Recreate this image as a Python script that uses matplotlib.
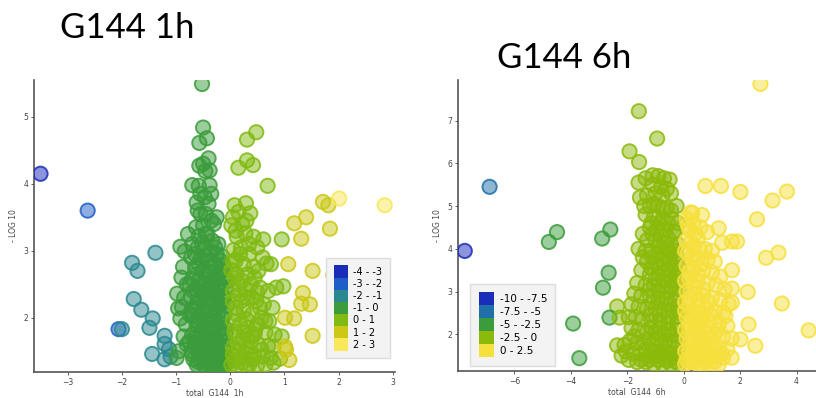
import matplotlib
matplotlib.use("Agg")
import matplotlib.pyplot as plt
from matplotlib.patches import Patch
from matplotlib.colors import to_rgba
import numpy as np

# ---------------- data: G144 1h ----------------
x_1h = [-3.50, -2.63, -1.81, -1.71, -1.38, -1.78, -1.64, -1.43, -1.49, -2.06, -2.00,
        -1.44, -1.21, -1.21, -1.13, -1.21, -1.10,
        -0.52, -0.50, -0.57, -0.43, -0.40, -0.50, -0.46, -0.38, -0.57, -0.70, -0.58, -0.38,
        -0.47, -0.62, -0.40, -0.55, -0.45, -0.25, -0.30, -0.63, -0.50, -0.58, -0.42, -0.33,
        -0.22, -0.70, -0.60, -0.48, -0.35, -0.25, -0.15, -0.72, -0.55, -0.42, -0.28, -0.12,
        -0.65, -0.50, -0.38, -0.22, -0.10, -0.70, -0.58, -0.45, -0.32, -0.18, -0.08, -0.62,
        -0.50, -0.38, -0.25, -0.12, -0.72, -0.55, -0.42, -0.30, -0.18, -0.06, -0.65, -0.50,
        -0.35, -0.22, -0.10, -0.70, -0.58, -0.45, -0.32, -0.18, -0.62, -0.48, -0.35, -0.22,
        -0.08, -0.70, -0.55, -0.42, -0.28, -0.15, -0.65, -0.52, -0.38, -0.25, -0.12, -0.72,
        -0.58, -0.45, -0.32, -0.18, -0.06, -0.68, -0.55, -0.40, -0.28, -0.15, -0.62, -0.48,
        -0.35, -0.22, -0.10,
        -0.60, -0.35, -0.52, -0.28, -0.65, -0.45, -0.18, -0.58, -0.35, -0.15, -0.62, -0.43,
        -0.28, -0.05, -0.55, -0.38, -0.20, -0.68, -0.48, -0.30, -0.12, -0.60, -0.40, -0.25,
        -0.70, -0.52, -0.30, -0.15, -0.62, -0.42, -0.25, -0.10, -0.55, -0.38, -0.15, -0.65,
        -0.48, -0.32, -0.20, -0.05, -0.58, -0.42, -0.25, -0.70, -0.50, -0.35, -0.12, -0.60,
        -0.45, -0.30, -0.18, -0.05, -0.75, -0.75, -0.75, -0.45, -0.55, -0.35,
        -0.92, -0.84, -0.87, -0.98, -0.89, -0.96, -0.92, -0.86, -0.95, -0.99, -0.80, -0.85,
        -0.78, -0.82, -0.80, -0.90,
        0.48, 0.31, 0.15, 0.31, 0.42, 0.69, 0.08, 0.29, 0.15, 0.37, 0.02, 0.12, 0.28, 0.61,
        0.43, 0.06, 0.67, 0.02, 0.43, 0.95, 0.20, 0.35, 0.10, 0.25, 0.52, 0.08, 0.22, 0.38,
        0.55, 0.70, 0.85, 0.05, 0.18, 0.32, 0.48, 0.62, 0.78, 0.10, 0.25, 0.40, 0.58, 0.72,
        0.05, 0.18, 0.32, 0.46, 0.65, 0.82, 0.10, 0.24, 0.38, 0.52, 0.70, 0.80, 0.05, 0.16,
        0.30, 0.44, 0.60, 0.75, 0.92, 0.08, 0.22, 0.36, 0.50, 0.65, 0.80, 0.02, 0.12, 0.45,
        0.60, 0.30, 0.50, 0.75, 0.98, 0.95,
        0.05, 0.22, 0.10, 0.35, 0.18, 0.05, 0.32, 0.15, 0.28, 0.05, 0.40, 0.20, 0.12, 0.30,
        0.50, 0.08, 0.25, 0.40, 0.15, 0.32, 0.58, 0.05, 0.22, 0.40, 0.12, 0.30, 0.45, 0.55,
        0.65, 0.50,
        1.07, 1.52, 1.90, 1.18, 1.40, 1.31, 1.71, 1.81, 1.84, 1.34, 1.31, 1.47, 1.01, 1.18,
        1.52, 1.01, 1.09, 1.03,
        2.01, 2.85, 2.30]
y_1h = [4.15, 3.60, 2.82, 2.70, 2.97, 2.28, 2.12, 1.99, 1.85, 1.83, 1.83,
        1.46, 1.73, 1.61, 1.53, 1.38, 1.42,
        5.49, 4.84, 4.61, 4.68, 4.38, 4.30, 4.19, 4.20, 4.27, 3.98, 3.97, 3.98,
        3.80, 3.72, 3.70, 3.55, 3.55, 3.50, 3.40, 3.35, 3.38, 3.22, 3.25, 3.15,
        3.10, 3.10, 3.05, 3.02, 2.98, 2.95, 2.92, 2.90, 2.88, 2.85, 2.80, 2.78,
        2.75, 2.70, 2.68, 2.65, 2.62, 2.58, 2.55, 2.52, 2.50, 2.48, 2.45, 2.42,
        2.40, 2.38, 2.35, 2.32, 2.30, 2.28, 2.25, 2.22, 2.20, 2.18, 2.15, 2.12,
        2.10, 2.08, 2.05, 2.02, 2.00, 1.98, 1.95, 1.92, 1.88, 1.85, 1.82, 1.80,
        1.78, 1.75, 1.72, 1.70, 1.68, 1.65, 1.62, 1.58, 1.56, 1.54, 1.52, 1.50,
        1.47, 1.45, 1.43, 1.41, 1.40, 1.38, 1.36, 1.35, 1.33, 1.32, 1.30, 1.29,
        1.28, 1.28, 1.30,
        3.60, 3.45, 3.12, 3.05, 2.95, 2.92, 2.85, 2.80, 2.75, 2.70, 2.65, 2.62,
        2.58, 2.55, 2.48, 2.45, 2.42, 2.40, 2.35, 2.32, 2.28, 2.22, 2.18, 2.15,
        2.12, 2.08, 2.02, 2.00, 1.95, 1.92, 1.88, 1.85, 1.80, 1.77, 1.75, 1.70,
        1.66, 1.62, 1.60, 1.58, 1.55, 1.52, 1.48, 1.45, 1.42, 1.40, 1.38, 1.34,
        1.32, 1.30, 1.35, 1.33, 1.65, 2.05, 2.50, 3.25, 3.85, 3.85,
        3.06, 2.99, 2.76, 2.36, 2.16, 2.14, 1.99, 1.72, 1.50, 1.40, 2.50, 2.30,
        3.25, 1.90, 1.60, 2.60,
        4.77, 4.66, 4.24, 4.35, 4.28, 3.97, 3.68, 3.71, 3.58, 3.56, 3.38, 3.21, 3.26, 3.17,
        3.21, 3.01, 2.81, 2.71, 2.76, 3.17, 3.05, 2.95, 2.85, 2.80, 2.70, 2.60, 2.55, 2.50,
        2.45, 2.40, 2.45, 2.40, 2.35, 2.30, 2.25, 2.20, 2.15, 2.15, 2.10, 2.05, 2.00, 1.95,
        1.95, 1.90, 1.85, 1.82, 1.78, 1.75, 1.72, 1.68, 1.64, 1.60, 1.58, 1.57, 1.55, 1.50,
        1.47, 1.44, 1.42, 1.40, 1.39, 1.36, 1.33, 1.31, 1.30, 1.30, 1.33, 1.30, 2.65, 2.60,
        2.90, 3.45, 3.05, 2.80, 2.47, 1.72,
        3.50, 3.40, 3.30, 3.10, 2.95, 2.85, 2.65, 2.50, 2.42, 2.25, 2.30, 2.25, 2.05, 1.98,
        1.90, 1.80, 1.78, 1.72, 1.62, 1.55, 1.52, 1.45, 1.42, 1.38, 1.28, 1.28, 1.75, 2.15,
        1.95, 2.38,
        2.80, 2.70, 2.64, 3.41, 3.50, 3.18, 3.73, 3.68, 3.33, 2.37, 2.21, 2.20, 2.00, 1.99,
        1.73, 1.57, 1.37, 1.52,
        3.78, 3.68, 2.69]

# ---------------- data: G144 6h ----------------
x_6h = [-7.76, -6.88, -4.78, -4.49, -2.89, -2.60, -2.66, -2.86, -3.92, -3.70,
        -1.59, -0.94, -1.92, -1.58, -2.36, -2.63, -2.27, -2.36,
        -1.60, -1.35, -1.10, -0.90, -0.70, -0.50, -1.55, -1.30, -1.00, -0.75, -0.45, -0.25,
        -1.20, -0.90, -0.60, -1.35, -1.05, -0.75, -0.40, -0.20, -1.20, -0.95, -0.65, -0.35,
        -1.45, -1.30, -1.00, -0.70, -0.45, -0.20, -1.60, -1.15, -0.85, -0.55, -0.25, -1.45,
        -1.30, -1.00, -0.70, -0.40, -0.15, -1.50, -1.20, -0.90, -0.60, -0.30, -1.65, -1.35,
        -1.05, -0.75, -0.45, -0.15, -1.75, -1.50, -1.20, -0.90, -0.60, -0.30, -1.85, -1.60,
        -1.30, -1.00, -0.70, -0.40, -0.15, -1.95, -1.70, -1.45, -1.15, -0.85, -0.55, -0.25,
        -1.85, -1.60, -1.30, -1.00, -0.70, -0.40, -0.12, -1.90, -1.65, -1.40, -1.10, -0.80,
        -0.50, -0.20, -2.05, -1.80, -1.50, -1.20, -0.90, -0.60, -0.30, -1.95, -1.65, -1.35,
        -1.05, -0.75, -0.45, -0.15, -2.10, -2.20, -1.75,
        -1.10, -0.80, -0.60, -1.40, -1.05, -0.75, -0.45, -1.15, -0.85, -0.55, -0.30, -1.10,
        -0.80, -0.55, -0.90, -0.60, -0.35, -1.35, -1.10, -0.80, -0.50, -0.25, -1.15, -0.85,
        -0.55, -0.30, -1.00, -0.70, -0.40, -0.20, -1.20, -0.90, -0.60, -0.30, -1.10, -0.80,
        -0.50, -0.20, -1.15, -0.85, -0.55, -0.25, -1.15, -0.85, -0.55, -0.25, -1.25, -0.95,
        -0.65, -0.35, -1.35, -1.05, -0.75, -0.45, -0.15, -1.50, -1.20, -0.90, -0.60, -0.30,
        2.72, 0.77, 1.32, 2.01, 3.15, 3.66, 2.60, 0.65, 0.30, 1.24, 0.83, 1.36, 1.71, 1.89,
        2.92, 3.36, 1.71, 2.27, 1.71, 3.48, 2.30, 4.43, 2.54, 2.01, 1.48, 1.71,
        0.10, 0.35, 0.60, 0.20, 0.50, 0.10, 0.35, 0.75, 1.00, 0.15, 0.50, 0.85, 1.10, 0.10,
        0.35, 0.70, 1.00, 1.30, 0.20, 0.50, 0.85, 1.15, 1.45, 0.10, 0.40, 0.70, 1.00, 1.30,
        1.60, 0.20, 0.50, 0.80, 1.10, 1.40, 0.10, 0.35, 0.65, 0.95, 1.25, 1.55, 0.20, 0.50,
        0.80, 1.10, 1.40, 1.70, 0.10, 0.35, 0.65, 0.95, 1.25, 1.55, 0.20, 0.50, 0.80, 1.10,
        1.40, 1.70, 0.10, 0.35, 0.65, 0.95, 1.25, 0.05, 0.25, 0.05,
        0.15, 0.40, 0.25, 0.55, 0.05, 0.30, 0.65, 0.20, 0.50, 0.05, 0.35, 0.70, 0.20, 0.55,
        0.90, 0.05, 0.35, 0.65, 0.95, 0.20, 0.50, 0.80, 0.05, 0.35, 0.65, 0.95, 0.20, 0.50,
        0.80, 1.10, 0.05, 0.35, 0.65, 0.95, 0.20, 0.50, 0.80, 1.10, 1.35, 1.20]
y_6h = [3.95, 5.45, 4.16, 4.39, 4.24, 4.45, 3.44, 3.09, 2.25, 1.44,
        7.22, 6.58, 6.28, 6.03, 2.65, 2.39, 2.39, 1.74,
        5.55, 5.65, 5.72, 5.70, 5.65, 5.62, 5.20, 5.25, 5.30, 5.25, 5.30, 5.00,
        5.00, 5.00, 4.95, 4.80, 4.75, 4.70, 4.70, 4.60, 4.50, 4.45, 4.45, 4.40,
        4.35, 4.20, 4.20, 4.15, 4.10, 4.10, 4.00, 3.95, 3.90, 3.90, 3.85, 3.80,
        3.70, 3.65, 3.65, 3.60, 3.55, 3.50, 3.40, 3.40, 3.35, 3.35, 3.20, 3.15,
        3.15, 3.10, 3.10, 3.05, 2.95, 2.90, 2.90, 2.85, 2.85, 2.80, 2.70, 2.65,
        2.60, 2.60, 2.55, 2.55, 2.50, 2.40, 2.40, 2.35, 2.30, 2.30, 2.25, 2.25,
        2.15, 2.10, 2.05, 2.05, 2.00, 2.00, 1.95, 1.85, 1.80, 1.80, 1.75, 1.75,
        1.70, 1.70, 1.60, 1.55, 1.55, 1.50, 1.50, 1.45, 1.45, 1.40, 1.35, 1.35,
        1.30, 1.30, 1.30, 1.30, 1.75, 1.50, 1.95,
        5.50, 5.45, 5.40, 5.00, 5.05, 4.95, 4.90, 4.60, 4.60, 4.60, 4.40, 4.35,
        4.30, 4.25, 4.05, 4.00, 3.95, 3.95, 3.80, 3.75, 3.75, 3.70, 3.55, 3.55,
        3.50, 3.45, 3.30, 3.25, 3.25, 3.20, 3.05, 3.00, 3.00, 2.95, 2.75, 2.75,
        2.70, 2.65, 2.45, 2.45, 2.40, 2.40, 2.15, 2.15, 2.10, 2.10, 1.90, 1.90,
        1.85, 1.85, 1.65, 1.60, 1.60, 1.55, 1.55, 1.40, 1.40, 1.40, 1.38, 1.36,
        7.86, 5.47, 5.47, 5.33, 5.13, 5.34, 4.69, 4.79, 4.84, 4.48, 4.39, 4.14, 4.17, 4.17,
        3.79, 3.91, 3.50, 2.99, 3.07, 2.72, 2.23, 2.09, 1.73, 1.88, 2.43, 2.74,
        4.70, 4.60, 4.50, 4.45, 4.25, 4.20, 4.05, 4.00, 3.95, 3.90, 3.80, 3.75, 3.70, 3.60,
        3.55, 3.50, 3.45, 3.35, 3.30, 3.25, 3.20, 3.15, 3.05, 3.00, 2.95, 2.90, 2.85, 2.80,
        2.70, 2.70, 2.65, 2.60, 2.55, 2.50, 2.40, 2.40, 2.35, 2.30, 2.25, 2.20, 2.15, 2.10,
        2.05, 2.00, 1.95, 1.90, 1.90, 1.85, 1.80, 1.75, 1.70, 1.65, 1.60, 1.55, 1.50, 1.50,
        1.45, 1.45, 1.40, 1.35, 1.30, 1.30, 1.30, 1.30, 4.85, 2.55,
        4.55, 4.35, 4.15, 4.00, 3.95, 3.80, 3.65, 3.45, 3.40, 3.25, 3.15, 3.05, 2.85, 2.80,
        2.75, 2.75, 2.55, 2.50, 2.45, 2.30, 2.25, 2.20, 2.10, 2.00, 1.95, 1.90, 1.75, 1.70,
        1.65, 1.65, 1.60, 1.50, 1.45, 1.45, 1.35, 1.30, 1.35, 1.35, 1.55, 2.10]

bins_1h = [-4, -3, -2, -1, 0, 1, 2, 3]
labels_1h = ["-4 - -3", "-3 - -2", "-2 - -1", "-1 - 0", "0 - 1", "1 - 2", "2 - 3"]
colors_1h = ["#1a2db8", "#1f5ec8", "#2a8890", "#3a9c3a", "#80ba12", "#cbc816", "#f8e85a"]

bins_6h = [-10, -7.5, -5, -2.5, 0, 2.5, 5]
labels_6h = ["-10 - -7.5", "-7.5 - -5", "-5 - -2.5", "-2.5 - 0", "0 - 2.5"]
colors_6h = ["#1a2db8", "#1f70a8", "#3a9c3a", "#8cba0a", "#f6e03c"]

W, H = 816, 398
fig = plt.figure(figsize=(W / 100, H / 100), dpi=100)
fig.patch.set_facecolor("white")

TITLE_FONT = ["Lato", "DejaVu Sans"]


def panel(rect, xs, ys, bins, colors, labels, xlim, ylim, xticks, yticks,
          xlabel, legend_loc, legend_anchor, legend_fs):
    ax = fig.add_axes(rect)
    xs = np.asarray(xs)
    ys = np.asarray(ys)
    idx = np.clip(np.digitize(xs, bins) - 1, 0, len(colors) - 1)
    fc = [to_rgba(colors[i], 0.5) for i in idx]
    ec = [to_rgba(colors[i], 0.85) for i in idx]
    ax.scatter(xs, ys, s=105, c=fc, edgecolors=ec, linewidths=1.4, zorder=3)
    ax.set_xlim(*xlim)
    ax.set_ylim(*ylim)
    ax.set_xticks(xticks)
    ax.set_yticks(yticks)
    for s in ["top", "right"]:
        ax.spines[s].set_visible(False)
    for s in ["left", "bottom"]:
        ax.spines[s].set_color("#555555")
        ax.spines[s].set_linewidth(1.2)
    ax.tick_params(labelsize=5.5, colors="#444444", length=2, width=0.6, pad=2)
    ax.set_xlabel(xlabel, fontsize=5.5, color="#444444", labelpad=2)
    ax.set_ylabel("- LOG 10", fontsize=5.5, color="#444444", labelpad=4)
    handles = [Patch(facecolor=c, edgecolor="none") for c in colors]
    leg = ax.legend(handles, labels, loc=legend_loc, bbox_to_anchor=legend_anchor,
                    fontsize=legend_fs, labelspacing=0.0, handlelength=1.5,
                    handleheight=1.55, handletextpad=0.5, borderpad=0.8,
                    frameon=True, fancybox=False)
    leg.get_frame().set_facecolor("#f3f3f3")
    leg.get_frame().set_edgecolor("#dddddd")
    leg.get_frame().set_alpha(1.0)
    leg.set_zorder(5)
    return ax


panel([34 / W, 1 - 372 / H, (395 - 34) / W, (372 - 80) / H],
      x_1h, y_1h, bins_1h, colors_1h, labels_1h,
      (-3.62, 3.04), (1.19, 5.55), [-3, -2, -1, 0, 1, 2, 3], [2, 3, 4, 5],
      "total  G144  1h", "lower right", (1.0, 0.03), 7)

panel([458 / W, 1 - 371 / H, (816 - 458) / W, (371 - 80) / H],
      x_6h, y_6h, bins_6h, colors_6h, labels_6h,
      (-8.0, 4.69), (1.14, 7.95), [-6, -4, -2, 0, 2, 4], [2, 3, 4, 5, 6, 7],
      "total  G144  6h", "lower left", (0.02, 0.0), 7.5)

fig.text(60 / W, 1 - 28 / H, "G144 1h", fontsize=25, family=TITLE_FONT,
         ha="left", va="center", color="black")
fig.text(497 / W, 1 - 58 / H, "G144 6h", fontsize=25, family=TITLE_FONT,
         ha="left", va="center", color="black")

fig.savefig("out.png", dpi=100, facecolor="white")
